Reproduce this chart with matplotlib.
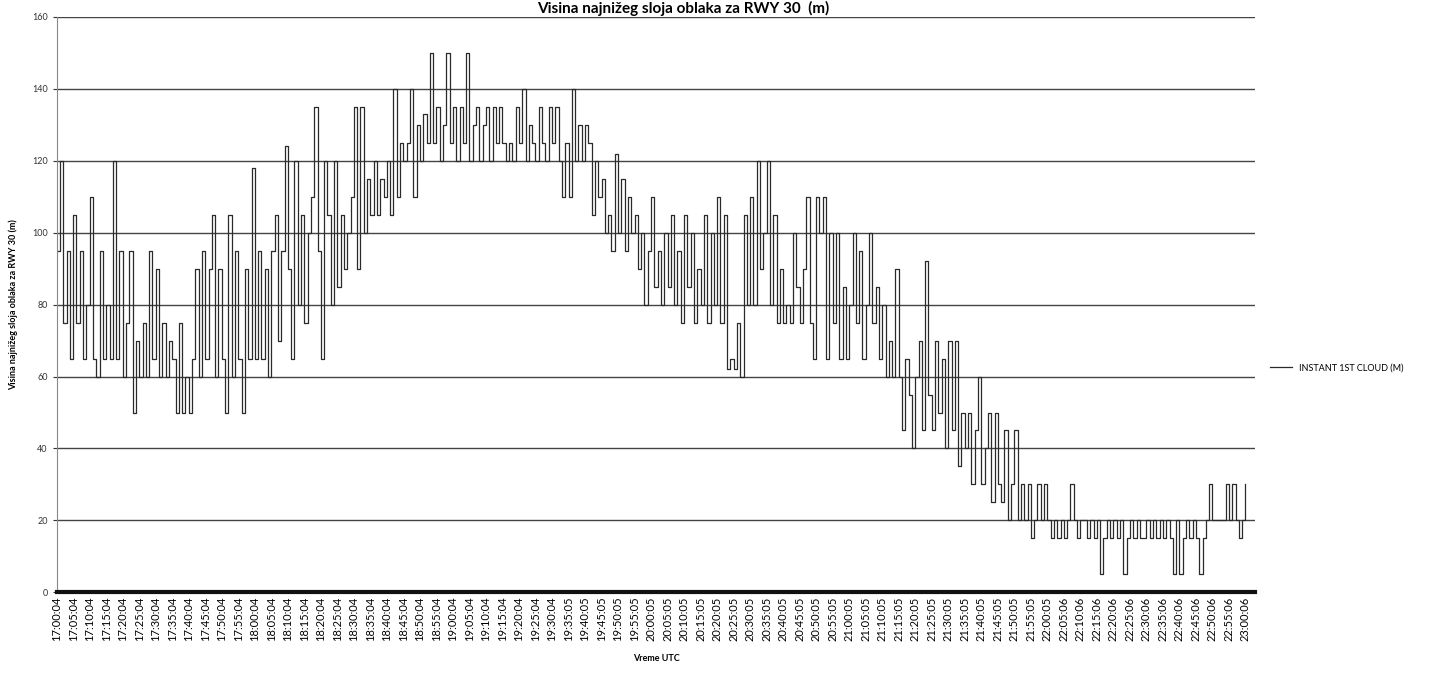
import matplotlib
matplotlib.use("Agg")
import matplotlib.pyplot as plt

plt.rcParams['font.family'] = ['Lato', 'DejaVu Sans']

# visina oblaka (m), jedna vrednost po minutu od 17:00 do 23:00
h17 = [95, 120, 75, 95, 65, 105, 75, 95, 65, 80,
       110, 65, 60, 95, 65, 80, 65, 120, 65, 95,
       60, 75, 95, 50, 70, 60, 75, 60, 95, 65,
       90, 60, 75, 60, 70, 65, 50, 75, 50, 60,
       50, 65, 90, 60, 95, 65, 90, 105, 60, 90,
       65, 50, 105, 60, 95, 65, 50, 90, 65, 118]
h18 = [65, 95, 65, 90, 60, 95, 105, 70, 95, 124,
       90, 65, 120, 80, 105, 75, 100, 110, 135, 95,
       65, 120, 105, 80, 120, 85, 105, 90, 100, 110,
       135, 90, 135, 100, 115, 105, 120, 105, 115, 110,
       120, 105, 140, 110, 125, 120, 125, 140, 110, 130,
       120, 133, 125, 150, 125, 135, 120, 130, 150, 125]
h19 = [135, 120, 135, 125, 150, 120, 130, 135, 120, 130,
       135, 120, 135, 125, 135, 125, 120, 125, 120, 135,
       125, 140, 120, 130, 125, 120, 135, 125, 120, 135,
       125, 135, 120, 110, 125, 110, 140, 120, 130, 120,
       130, 125, 105, 120, 110, 115, 100, 105, 95, 122,
       100, 115, 95, 110, 100, 105, 90, 100, 80, 95]
h20 = [110, 85, 95, 80, 100, 85, 105, 80, 95, 75,
       105, 85, 100, 75, 90, 80, 105, 75, 100, 80,
       110, 75, 105, 62, 65, 62, 75, 60, 105, 80,
       110, 80, 120, 90, 100, 120, 80, 105, 75, 90,
       75, 80, 75, 100, 85, 75, 90, 110, 75, 65,
       110, 100, 110, 65, 100, 75, 100, 65, 85, 65]
h21 = [80, 100, 75, 95, 65, 80, 100, 75, 85, 65,
       80, 60, 70, 60, 90, 60, 45, 65, 55, 40,
       60, 70, 45, 92, 55, 45, 70, 50, 65, 40,
       70, 45, 70, 35, 50, 40, 50, 30, 45, 60,
       30, 40, 50, 25, 50, 30, 25, 45, 20, 30,
       45, 20, 30, 20, 30, 15, 20, 30, 20, 30]
h22 = [20, 15, 20, 15, 20, 15, 20, 30, 20, 15,
       20, 20, 15, 20, 15, 20, 5, 15, 20, 15,
       20, 15, 20, 5, 15, 20, 15, 20, 15, 15,
       20, 15, 20, 15, 20, 15, 20, 15, 5, 20,
       5, 15, 20, 15, 20, 15, 5, 15, 20, 30,
       20, 20, 20, 20, 30, 20, 30, 20, 15, 20]
h23 = [30]

oblak = h17 + h18 + h19 + h20 + h21 + h22 + h23
minuti = list(range(len(oblak)))

vreme = ['17:00:04', '17:05:04', '17:10:04', '17:15:04', '17:20:04', '17:25:04',
         '17:30:04', '17:35:04', '17:40:04', '17:45:04', '17:50:04', '17:55:04',
         '18:00:04', '18:05:04', '18:10:04', '18:15:04', '18:20:04', '18:25:04',
         '18:30:04', '18:35:04', '18:40:04', '18:45:04', '18:50:04', '18:55:04',
         '19:00:04', '19:05:04', '19:10:04', '19:15:04', '19:20:04', '19:25:04',
         '19:30:04', '19:35:05', '19:40:05', '19:45:05', '19:50:05', '19:55:05',
         '20:00:05', '20:05:05', '20:10:05', '20:15:05', '20:20:05', '20:25:05',
         '20:30:05', '20:35:05', '20:40:05', '20:45:05', '20:50:05', '20:55:05',
         '21:00:05', '21:05:05', '21:10:05', '21:15:05', '21:20:05', '21:25:05',
         '21:30:05', '21:35:05', '21:40:05', '21:45:05', '21:50:05', '21:55:05',
         '22:00:05', '22:05:06', '22:10:06', '22:15:06', '22:20:06', '22:25:06',
         '22:30:06', '22:35:06', '22:40:06', '22:45:06', '22:50:06', '22:55:06',
         '23:00:06']
tick_pos = list(range(0, 361, 5))

fig = plt.figure(figsize=(14.53, 6.8), dpi=100)
ax = fig.add_axes([0.039, 0.129, 0.825, 0.846])

ax.plot(minuti, oblak, color='#2a2a2a', linewidth=0.9, drawstyle='steps-post',
        label='INSTANT 1ST CLOUD (M)')

ax.set_xlim(0, 363)
ax.set_ylim(0, 160)
ax.set_yticks(range(0, 161, 20))
ax.yaxis.grid(True, color='#444444', linewidth=1.0)
ax.set_axisbelow(True)

ax.set_xticks(tick_pos)
ax.set_xticklabels(vreme, rotation=90, fontsize=8)
ax.tick_params(axis='x', length=0, pad=3)
ax.tick_params(axis='y', labelsize=6.5, length=3, colors='#333333')

for s in ['top', 'right']:
    ax.spines[s].set_visible(False)
ax.spines['left'].set_color('#888888')
ax.spines['bottom'].set_color('#111111')
ax.spines['bottom'].set_linewidth(3)

ax.set_xlabel('Vreme UTC', fontsize=6.5, fontweight='bold', labelpad=9)
ax.set_ylabel('Visina najnižeg sloja oblaka za RWY 30 (m)', fontsize=6.5,
              fontweight='bold', labelpad=10)

fig.text(0.47, 0.998, 'Visina najnižeg sloja oblaka za RWY 30  (m)', ha='center',
         va='top', fontsize=11, fontweight='bold')

ax.legend(loc='center left', bbox_to_anchor=(1.005, 0.39), frameon=False,
          fontsize=6.5, handlelength=2.5)

fig.savefig('out.png', dpi=100)
